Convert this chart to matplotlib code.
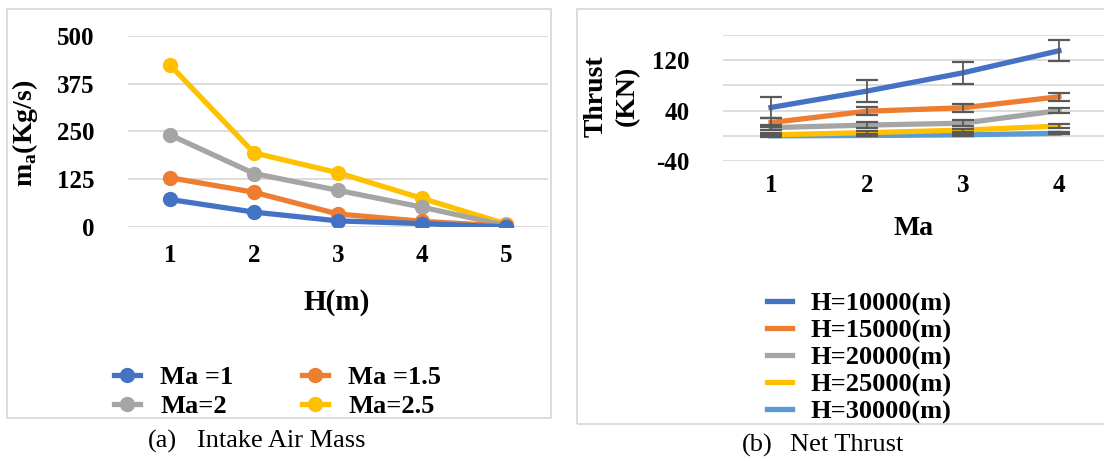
import matplotlib.pyplot as plt
from matplotlib.patches import Rectangle
from matplotlib.lines import Line2D
import numpy as np

plt.rcParams["font.family"] = ["Liberation Serif", "DejaVu Serif"]
plt.rcParams["mathtext.fontset"] = "custom"
plt.rcParams["mathtext.rm"] = "Liberation Serif:bold"

# (a) intake air mass
h_cats = [1, 2, 3, 4, 5]
ma_labels = ["Ma =1", "Ma =1.5", "Ma=2", "Ma=2.5"]
ma_1 = [72, 39, 16, 9, 0]
ma_15 = [129, 91, 34, 15, 2]
ma_2 = [241, 140, 96, 52, 4]
ma_25 = [424, 194, 142, 75, 8]

# (b) net thrust
ma_cats = [1, 2, 3, 4]
h_labels = ["H=10000(m)", "H=15000(m)", "H=20000(m)", "H=25000(m)", "H=30000(m)"]
t_10k = [45, 71, 100, 135]
t_15k = [21, 39, 44.5, 62]
t_20k = [13, 17, 20, 40]
t_25k = [1.5, 5, 9, 15.5]
t_30k = [0, 0.5, 1.5, 4]
t_err = [17, 6.5, 4.5, 2.5, 1.5]

c_blue, c_orange, c_gray, c_yellow, c_lblue = "#4472C4", "#ED7D31", "#A5A5A5", "#FFC000", "#5B9BD5"
grid_c = "#d9d9d9"

W, H = 1104, 461
fig = plt.figure(figsize=(W / 100, H / 100), dpi=100)


def fx(px):
    return px / W


def fy(py):
    return 1 - py / H


# panel frames
fig.patches.append(Rectangle((fx(7), fy(418)), fx(551) - fx(7), fy(9) - fy(418),
                             transform=fig.transFigure, fill=False, ec=grid_c, lw=1.3))
fig.patches.append(Rectangle((fx(577), fy(424)), fx(1110) - fx(577), fy(9) - fy(424),
                             transform=fig.transFigure, fill=False, ec=grid_c, lw=1.3))

# ---- left chart
ax1 = fig.add_axes([fx(128), fy(227), fx(548) - fx(128), fy(36) - fy(227)])
series_a = [ma_1, ma_15, ma_2, ma_25]
colors_a = [c_blue, c_orange, c_gray, c_yellow]
for i, (vals, col, lab) in enumerate(zip(series_a, colors_a, ma_labels)):
    ax1.plot(h_cats, vals, color=col, lw=3.8, marker="o", ms=10, label=lab, zorder=10 - i)
ax1.set_xlim(0.5, 5.5)
ax1.set_ylim(0, 500)
ax1.set_yticks([0, 125, 250, 375, 500])
ax1.set_xticks(h_cats)
ax1.grid(axis="y", color=grid_c, lw=1.3)
ax1.set_axisbelow(True)
for s in ax1.spines.values():
    s.set_visible(False)
ax1.tick_params(length=0, labelsize=18)
ax1.tick_params(axis="y", pad=24)
ax1.tick_params(axis="x", pad=12)
for t in ax1.get_xticklabels() + ax1.get_yticklabels():
    t.set_fontweight("bold")

fig.text(fx(337), fy(302), "H(m)", ha="center", va="center", fontsize=21, fontweight="bold")
fig.text(fx(25), fy(133), r"m$_{\mathrm{a}}$(Kg/s)", ha="center", va="center",
         rotation=90, fontsize=20, fontweight="bold")

handles_a = [Line2D([], [], color=c, lw=3.8, marker="o", ms=10) for c in colors_a]
# rows like the reference: (Ma=1, Ma=1.5) / (Ma=2, Ma=2.5)
leg1 = fig.legend([handles_a[0], handles_a[2], handles_a[1], handles_a[3]],
                  [ma_labels[0], ma_labels[2], ma_labels[1], ma_labels[3]],
                  ncol=2, loc="upper left", bbox_to_anchor=(fx(114), fy(366)),
                  frameon=False, borderpad=0, borderaxespad=0, handlelength=1.0,
                  handletextpad=0.75, columnspacing=2.6, labelspacing=0.2,
                  prop={"size": 19, "weight": "bold"})

fig.text(fx(148), fy(441), "(a)", ha="left", va="center", fontsize=19)
fig.text(fx(197), fy(441), "Intake Air Mass", ha="left", va="center", fontsize=19)

# ---- right chart
ax2 = fig.add_axes([fx(723), fy(161), fx(1107) - fx(723), fy(35) - fy(161)])
series_b = [t_10k, t_15k, t_20k, t_25k, t_30k]
colors_b = [c_blue, c_orange, c_gray, c_yellow, c_lblue]
for i, (vals, col, lab, e) in enumerate(zip(series_b, colors_b, h_labels, t_err)):
    ax2.plot(ma_cats, vals, color=col, lw=3.8, label=lab, zorder=10 - i)
    ax2.errorbar(ma_cats, vals, yerr=e, fmt="none", ecolor="#595959", elinewidth=1.3,
                 capsize=8, capthick=1.6, zorder=20)
ax2.set_xlim(0.5, 4.5)
ax2.set_ylim(-40, 160)
ax2.set_yticks([-40, 0, 40, 80, 120, 160])
ax2.set_yticklabels(["-40", "", "40", "", "120", ""])
ax2.set_xticks(ma_cats)
ax2.grid(axis="y", color=grid_c, lw=1.3)
ax2.set_axisbelow(True)
for s in ax2.spines.values():
    s.set_visible(False)
ax2.tick_params(length=0, labelsize=18)
ax2.tick_params(axis="y", pad=24)
ax2.tick_params(axis="x", pad=9)
for t in ax2.get_xticklabels() + ax2.get_yticklabels():
    t.set_fontweight("bold")

fig.text(fx(913), fy(228), "Ma", ha="center", va="center", fontsize=20, fontweight="bold")
fig.text(fx(612), fy(96), "Thrust\n(KN)", ha="center", va="center", rotation=90,
         fontsize=20, fontweight="bold", linespacing=1.35)

handles_b = [Line2D([], [], color=c, lw=3.8) for c in colors_b]
leg2 = fig.legend(handles_b, h_labels, loc="upper left", bbox_to_anchor=(fx(767), fy(292)),
                  frameon=False, borderpad=0, borderaxespad=0, handlelength=0.95,
                  handletextpad=0.7, labelspacing=0.12, prop={"size": 19, "weight": "bold"})

fig.text(fx(742), fy(445), "(b)", ha="left", va="center", fontsize=19)
fig.text(fx(790), fy(445), "Net Thrust", ha="left", va="center", fontsize=19)

fig.savefig("out.png", dpi=100)
